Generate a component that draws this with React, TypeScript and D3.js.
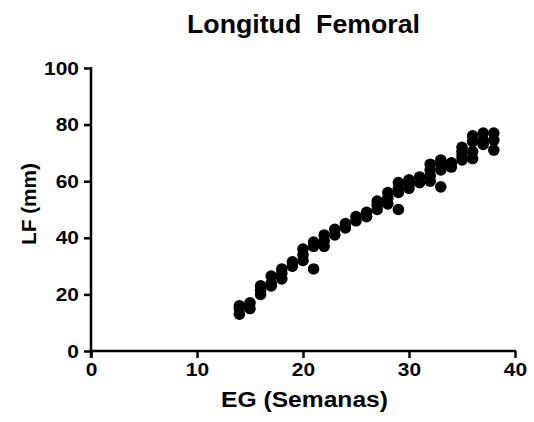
import * as d3 from "d3";
import React, { useEffect, useRef } from "react";

// weeks (EG) and femur length (LF, mm)
const weeks = [
  14, 14, 14, 15, 15, 16, 16, 16, 17, 17, 17, 18, 18, 18, 19, 19, 20, 20, 20,
  21, 21, 21, 22, 22, 22, 23, 23, 24, 24, 25, 25, 26, 26, 27, 27, 27, 28, 28,
  28, 29, 29, 29, 29, 30, 30, 30, 31, 31, 32, 32, 32, 32, 33, 33, 33, 33, 34,
  34, 35, 35, 35, 35, 36, 36, 36, 36, 37, 37, 37, 38, 38, 38,
];
const lengths = [
  13, 15, 16, 17, 15, 23, 21.5, 20, 26.5, 24, 23, 29, 27.5, 25.5, 31.5, 30, 36,
  34, 32, 38.5, 37, 29, 41, 39, 37, 43, 41, 45, 43.5, 47.5, 46, 49, 47.5, 53,
  51.5, 50, 56, 54, 52, 59.5, 57.5, 56, 50, 60.5, 59, 57.5, 61.5, 59.5, 66, 64,
  62, 60, 67.5, 66, 64, 58, 66.5, 65, 72, 70.5, 69, 67.5, 76, 74, 70.5, 68, 77,
  74.5, 73, 77, 74.5, 71,
];
const xTicks = [0, 10, 20, 30, 40];
const yTicks = [0, 20, 40, 60, 80, 100];
const title = "Longitud  Femoral";
const xLabel = "EG (Semanas)";
const yLabel = "LF (mm)";

export default function App() {
  const ref = useRef<SVGSVGElement>(null);

  useEffect(() => {
    const width = 534;
    const height = 422;
    const font = "Arial, 'Liberation Sans', sans-serif";

    const svg = d3.select(ref.current);
    svg.selectAll("*").remove();
    svg.attr("width", width).attr("height", height);

    const x = d3.scaleLinear().domain([0, 40]).range([91, 515]);
    const y = d3.scaleLinear().domain([0, 100]).range([351, 68]);

    // points
    svg
      .append("g")
      .selectAll("circle")
      .data(weeks)
      .join("circle")
      .attr("cx", (d) => x(d))
      .attr("cy", (d, i) => y(lengths[i]))
      .attr("r", 5.8)
      .attr("fill", "#000");

    // axes
    const xAxis = svg
      .append("g")
      .attr("transform", `translate(0,${y(0)})`)
      .call(d3.axisBottom(x).tickValues(xTicks).tickSize(7).tickPadding(5));
    const yAxis = svg
      .append("g")
      .attr("transform", `translate(${x(0)},0)`)
      .call(d3.axisLeft(y).tickValues(yTicks).tickSize(7).tickPadding(4));

    [xAxis, yAxis].forEach((g) => {
      g.select(".domain").attr("stroke", "#000").attr("stroke-width", 2.5);
      g.selectAll(".tick line").attr("stroke", "#000").attr("stroke-width", 2.5);
      g.selectAll(".tick text")
        .attr("fill", "#000")
        .style("font-family", font)
        .style("font-weight", "bold")
        .style("font-size", "19px")
        .attr("transform", "scale(1.1,1)");
    });
    xAxis.select(".domain").attr("d", `M${x(0) - 1},0H${x(40) + 1}`);
    yAxis.select(".domain").attr("d", `M0,${y(0) + 7}V${y(100) - 1}`);

    // title and axis labels
    svg
      .append("text")
      .attr("x", 187)
      .attr("y", 33)
      .attr("textLength", 233)
      .attr("lengthAdjust", "spacingAndGlyphs")
      .style("white-space", "pre")
      .style("font-family", font)
      .style("font-weight", "bold")
      .style("font-size", "25px")
      .text(title);

    svg
      .append("text")
      .attr("x", 221)
      .attr("y", 407)
      .attr("textLength", 167)
      .attr("lengthAdjust", "spacingAndGlyphs")
      .style("font-family", font)
      .style("font-weight", "bold")
      .style("font-size", "22px")
      .text(xLabel);

    svg
      .append("text")
      .attr("transform", "translate(36,245) rotate(-90)")
      .attr("textLength", 82)
      .attr("lengthAdjust", "spacingAndGlyphs")
      .style("font-family", font)
      .style("font-weight", "bold")
      .style("font-size", "20px")
      .text(yLabel);
  }, []);

  return (
    <div style={{ position: "absolute", left: 0, top: 0 }}>
      <svg ref={ref} style={{ display: "block", background: "#fff" }}></svg>
    </div>
  );
}
